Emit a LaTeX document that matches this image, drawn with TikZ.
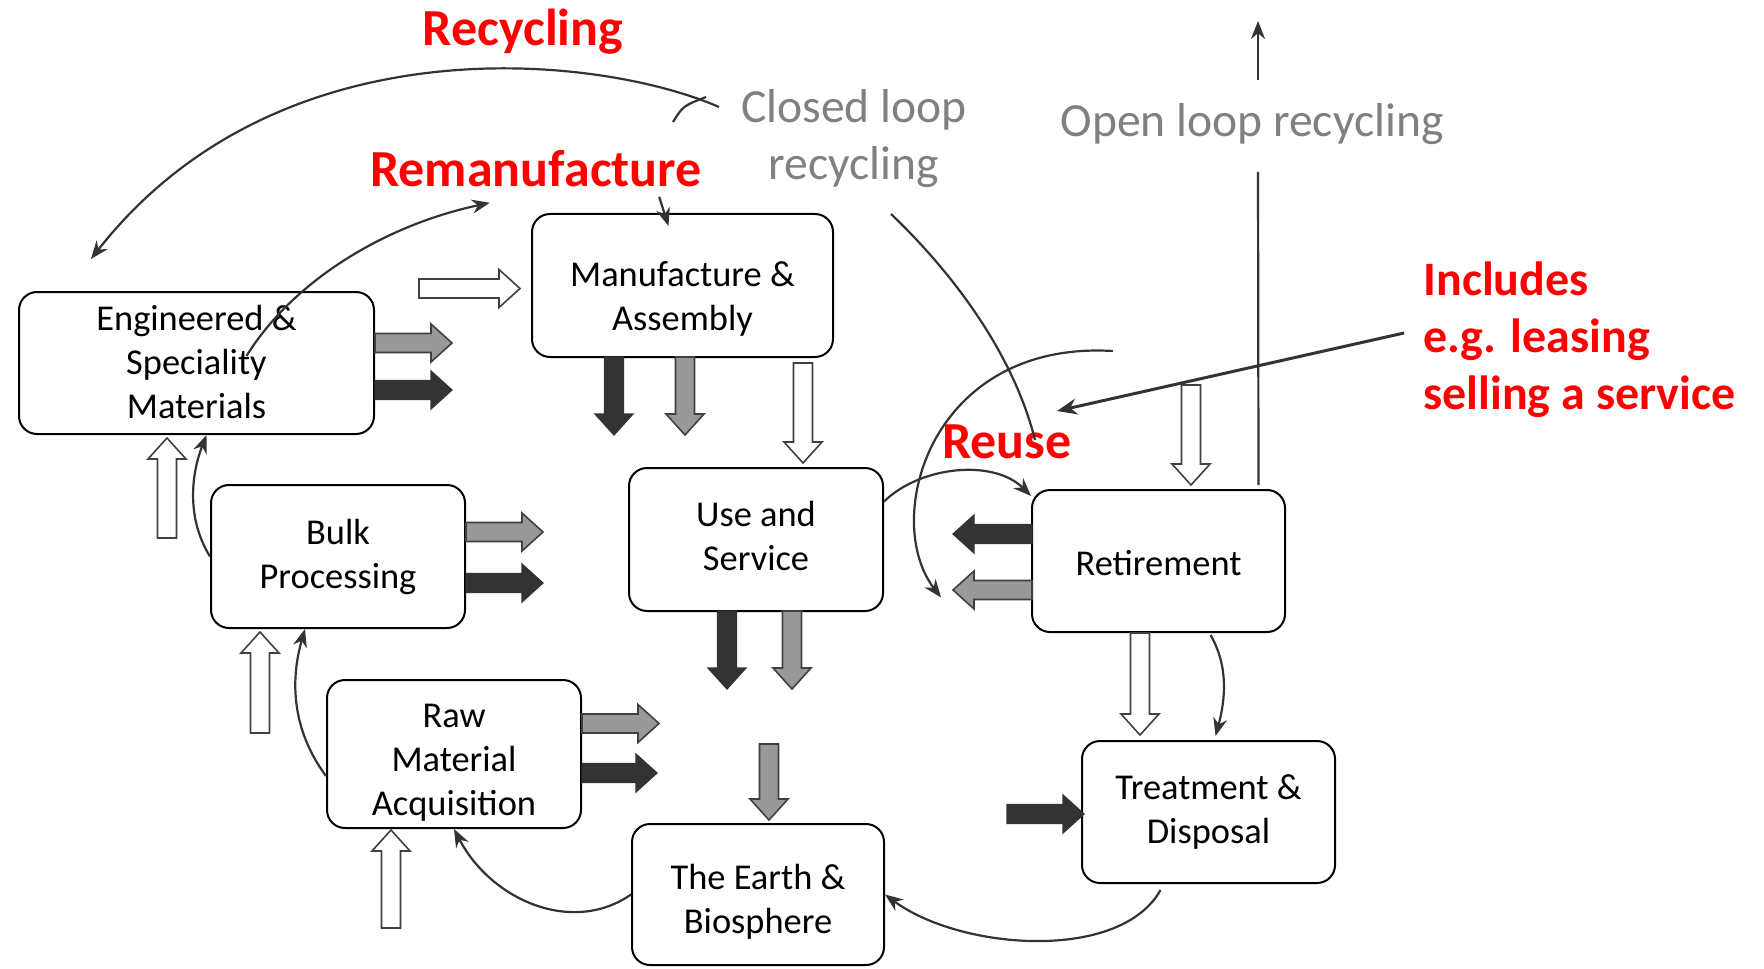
\documentclass[tikz,border=0pt]{standalone}
\usepackage{fontspec}
\setmainfont{Carlito}
\usetikzlibrary{arrows.meta,calc}
\definecolor{labelred}{RGB}{255,0,0}
\definecolor{labelgray}{RGB}{128,128,128}
\definecolor{darkfill}{RGB}{51,51,51}
\definecolor{grayfill}{RGB}{153,153,153}
\definecolor{edgegray}{RGB}{64,64,64}
\tikzset{
  box/.style={draw, line width=1pt, rounded corners=9pt, fill=white, align=center, inner sep=0pt, font=\fontsize{18.2pt}{22pt}\selectfont},
  thinline/.style={draw=darkfill, line width=1.1pt},
  link/.style={thinline, -{Stealth[length=9pt,width=7pt]}},
  pointer/.style={draw=darkfill, line width=1.5pt, -{Stealth[length=10pt,width=8pt]}},
  redlabel/.style={text=labelred, inner sep=0pt, font=\fontsize{26pt}{31pt}\selectfont\bfseries},
  graylabel/.style={text=labelgray, align=center, inner sep=0pt, font=\fontsize{23.8pt}{28.5pt}\selectfont},
  darkarrow/.style={fill=darkfill, draw=darkfill, line width=0.6pt},
  grayarrow/.style={fill=grayfill, draw=edgegray, line width=0.8pt},
  whitearrow/.style={fill=white, draw=edgegray, line width=0.8pt},
}
\newcommand{\fatarrow}[4]{\draw[#1,shift={#2},rotate=#3] (0,-9.5) -- ({#4-21},-9.5) -- ({#4-21},-19) -- (#4,0) -- ({#4-21},19) -- ({#4-21},9.5) -- (0,9.5) -- cycle;}
\begin{document}
\begin{tikzpicture}[x=0.5pt,y=-0.5pt]
\fill[white] (0,0) rectangle (1764,968);
\useasboundingbox (0,0) rectangle (1764,968);

\node[box, minimum width=177.5pt, text height=63pt, text depth=8pt] (eng) at (196.5,363) {Engineered \&\\Speciality\\Materials};
\node[box, minimum width=150.5pt, text height=58pt, text depth=13.5pt] (manuf) at (682.5,285.5) {Manufacture \&\\Assembly};
\node[box, minimum width=127pt, text height=51.5pt, text depth=20pt] (bulk) at (338,556.5) {Bulk\\Processing};
\node[box, minimum width=127pt, text height=51pt, text depth=20.5pt] (use) at (756,539.5) {Use and\\Service};
\node[box, minimum width=126.5pt, text height=42.5pt, text depth=28.5pt] (ret) at (1158.5,561) {Retirement};
\node[box, minimum width=127pt, text height=67.5pt, text depth=6.5pt] (raw) at (454,754) {Raw\\Material\\Acquisition};
\node[box, minimum width=126.5pt, text height=51pt, text depth=20pt] (treat) at (1208.5,812) {Treatment \&\\Disposal};
\node[box, minimum width=126pt, text height=54.5pt, text depth=16pt] (earth) at (758,894.5) {The Earth \&\\Biosphere};

\node[redlabel, anchor=base] (rec) at (523,46) {Recycling};
\node[redlabel, anchor=base] (remanu) at (536,187) {Remanufacture};
\node[redlabel, anchor=base] (reuse) at (1007,458) {Reuse};
\node[redlabel, anchor=base west, align=left, font=\fontsize{24pt}{28.5pt}\selectfont\bfseries] (incl) at (1423,409) {Includes\\e.g. leasing\\selling a service};
\node[graylabel, anchor=base] (closed) at (854,180) {Closed loop\\recycling};
\node[graylabel, anchor=base] (openlbl) at (1252,137) {Open loop recycling};

\coordinate (recstart) at (719,107);
\coordinate (crstart) at (891,214);
\coordinate (reusestart) at (1113,351);
\coordinate (reuseptr) at (1057,411);

\fatarrow{whitearrow}{(419,288.5)}{0}{101}
\fatarrow{grayarrow}{(375,343)}{0}{77}
\fatarrow{darkarrow}{(375,390)}{0}{77}
\fatarrow{darkarrow}{(614,357)}{-90}{78}
\fatarrow{grayarrow}{(685,357)}{-90}{78}
\fatarrow{whitearrow}{(803,363)}{-90}{100}
\fatarrow{whitearrow}{(167,538)}{90}{100}
\fatarrow{grayarrow}{(466,532)}{0}{77}
\fatarrow{darkarrow}{(466,583)}{0}{77}
\fatarrow{whitearrow}{(260,733)}{90}{101}
\fatarrow{grayarrow}{(582,723.5)}{0}{77}
\fatarrow{darkarrow}{(582,773)}{0}{75}
\fatarrow{whitearrow}{(391,928)}{90}{98}
\fatarrow{darkarrow}{(727,611)}{-90}{78}
\fatarrow{grayarrow}{(792,611)}{-90}{78}
\fatarrow{grayarrow}{(769,744)}{-90}{76}
\fatarrow{whitearrow}{(1191,385)}{-90}{100}
\fatarrow{darkarrow}{(1032,534)}{180}{79}
\fatarrow{grayarrow}{(1032,590)}{180}{79}
\fatarrow{whitearrow}{(1140,633)}{-90}{102}
\fatarrow{darkarrow}{(1007,814)}{0}{77}

\draw[link] (recstart) .. controls +(-119,-52) and +(188,-240) .. ($(eng.north west)+(73,-32)$);
\draw[thinline] ($(recstart)+(-46,15)$) .. controls +(10,-16) .. ($(recstart)+(-13,-10)$);
\draw[link] ($(eng.center)+(50,-7)$) .. controls +(45,-73) and +(-108,23) .. ($(remanu.south west)+(120,15)$);
\draw[link] ($(remanu.south east)+(-43,9)$) -- ($(manuf.north)+(-14,13)$);
\draw[thinline] (crstart) .. controls +(69,66) and +(-20,-80) .. ($(reuse.base)+(28,-18)$);
\draw[link] (reusestart) .. controls +(-183,-11) and +(-60,-78) .. ($(use.east)+(57,58)$);
\draw[pointer] ($(incl.base west)+(-19,-76)$) -- (reuseptr);
\draw[link] ($(use.east)+(0,-38)$) .. controls +(37,-36) and +(-37,-37) .. ($(ret.north west)+(0,7)$);
\draw[thinline] ($(ret.north)+(100,-4)$) -- ($(openlbl.base)+(6,35)$);
\draw[link] ($(openlbl.base)+(6,-57)$) -- ++(0,-59);
\draw[link] ($(ret.south)+(52,2)$) .. controls +(18,31) and +(10,-37) .. ($(treat.north)+(7,-4)$);
\draw[link] ($(treat.south)+(-48,6)$) .. controls +(-40,72) and +(76,56) .. (earth.east);
\draw[link] (earth.west) .. controls +(-59,41) and +(37,71) .. (raw.south);
\draw[link] ($(raw.west)+(0,22)$) .. controls +(-34,-46) and +(-15,52) .. ($(bulk.south)+(-33,0)$);
\draw[link] (bulk.west) .. controls +(-23,-37) and +(-16,41) .. ($(eng.south)+(10,0)$);
\end{tikzpicture}
\end{document}
